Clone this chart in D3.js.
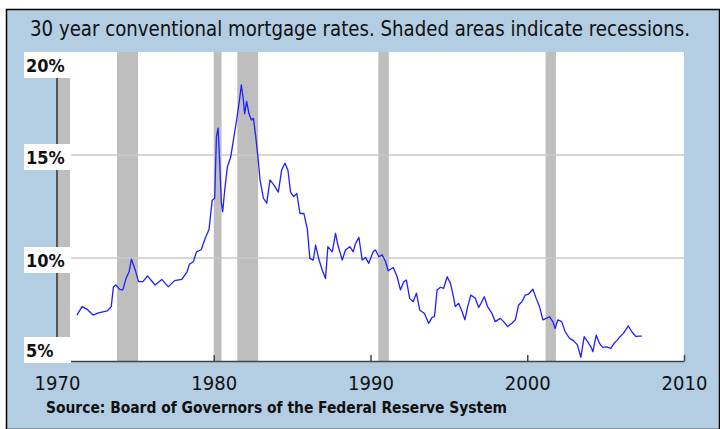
<!DOCTYPE html>
<html>
<head>
<meta charset="utf-8">
<script src="https://cdn.jsdelivr.net/npm/d3@7"></script>
<style>
    html, body { margin: 0; padding: 0; background: #fff; }
    text { font-family: "DejaVu Sans Condensed", "DejaVu Sans", sans-serif; fill: #111; }
</style>
</head>
<body>
<div id="chart"></div>
<script>
// Freddie Mac 30 year conventional rate (decimal year, percent)
const years = [
    1971.27, 1971.6, 1971.9, 1972.3, 1972.65, 1973.2, 1973.46, 1973.6, 1973.75, 1974.0,
    1974.2, 1974.4, 1974.6, 1974.75, 1974.99, 1975.2, 1975.48, 1975.78, 1975.99, 1976.26,
    1976.69, 1977.1, 1977.5, 1977.96, 1978.3, 1978.45, 1978.7, 1978.9, 1979.2, 1979.45,
    1979.7, 1979.9, 1980.06, 1980.17, 1980.28, 1980.38, 1980.49, 1980.57, 1980.7, 1980.87,
    1981.08, 1981.29, 1981.46, 1981.67, 1981.76, 1981.89, 1981.97, 1982.1, 1982.25, 1982.4,
    1982.53, 1982.68, 1982.82, 1982.95, 1983.17, 1983.38, 1983.59, 1983.84, 1984.12, 1984.33,
    1984.54, 1984.73, 1984.9, 1985.1, 1985.3, 1985.5, 1985.75, 1985.97, 1986.13, 1986.35,
    1986.5, 1986.7, 1986.92, 1987.13, 1987.28, 1987.56, 1987.77, 1987.92, 1988.2, 1988.4,
    1988.68, 1988.9, 1989.04, 1989.26, 1989.47, 1989.68, 1989.89, 1990.17, 1990.32, 1990.53,
    1990.75, 1990.96, 1991.13, 1991.45, 1991.7, 1991.91, 1992.12, 1992.29, 1992.5, 1992.72,
    1992.93, 1993.14, 1993.44, 1993.71, 1993.93, 1994.08, 1994.25, 1994.46, 1994.67, 1994.89,
    1995.1, 1995.27, 1995.41, 1995.62, 1995.84, 1996.02, 1996.2, 1996.4, 1996.69, 1996.9,
    1997.05, 1997.26, 1997.47, 1997.75, 1997.96, 1998.28, 1998.49, 1998.75, 1999.02, 1999.24,
    1999.45, 1999.66, 1999.87, 2000.08, 2000.36, 2000.57, 2000.78, 2001.0, 2001.21, 2001.42,
    2001.63, 2001.78, 2001.95, 2002.2, 2002.42, 2002.7, 2002.95, 2003.2, 2003.42, 2003.63,
    2003.85, 2004.06, 2004.19, 2004.4, 2004.6, 2004.82, 2005.07, 2005.33, 2005.54, 2005.71,
    2005.92, 2006.13, 2006.45, 2006.67, 2006.94, 2007.09, 2007.31
];
const rates = [
    7.23, 7.64, 7.52, 7.23, 7.34, 7.43, 7.64, 8.6, 8.69, 8.48,
    8.45, 9.0, 9.33, 9.94, 9.42, 8.85, 8.85, 9.13, 8.93, 8.69,
    8.96, 8.6, 8.9, 8.96, 9.33, 9.7, 9.82, 10.3, 10.4, 10.95,
    11.4, 12.8, 12.9, 15.89, 16.3, 14.6, 12.66, 12.25, 13.3, 14.43,
    14.9, 15.89, 16.7, 17.83, 18.4, 17.67, 17.0, 17.6, 17.0, 16.7,
    16.78, 15.89, 14.9, 13.8, 12.9, 12.66, 13.79, 13.54, 13.2, 14.27,
    14.6, 14.27, 13.2, 12.98, 13.13, 12.16, 12.17, 11.4, 9.98, 9.9,
    10.63, 9.95, 9.42, 9.0, 10.55, 10.3, 11.2, 10.63, 9.9, 10.39,
    10.55, 10.3, 10.7, 11.0, 9.9, 10.03, 9.74, 10.3, 10.39, 10.06,
    10.15, 9.82, 9.38, 9.54, 9.09, 8.45, 8.85, 8.93, 8.04, 7.88,
    8.29, 7.48, 7.31, 6.83, 7.12, 7.15, 8.45, 8.58, 8.53, 9.09,
    8.77, 8.2, 7.64, 7.8, 7.4, 7.0, 7.64, 8.2, 8.04, 7.6,
    7.8, 8.12, 7.64, 7.31, 6.91, 7.07, 6.91, 6.67, 6.83, 7.0,
    7.72, 7.88, 8.2, 8.25, 8.48, 8.04, 7.64, 7.0, 7.07, 7.15,
    6.91, 6.58, 7.0, 6.91, 6.42, 6.1, 5.99, 5.78, 5.18, 6.18,
    5.94, 5.69, 5.45, 6.26, 5.86, 5.66, 5.69, 5.61, 5.86, 5.99,
    6.18, 6.34, 6.7, 6.42, 6.18, 6.21, 6.21
];

// NBER recessions (start, end)
const recessionStart = [1969.92, 1973.83, 1980.0, 1981.5, 1990.5, 2001.17];
const recessionEnd = [1970.83, 1975.17, 1980.5, 1982.83, 1991.17, 2001.83];

const xTicks = [1970, 1980, 1990, 2000, 2010];
const yTicks = [5, 10, 15, 20];
const yTickLabels = ['5%', '10%', '15%', '20%'];

const title = '30 year conventional mortgage rates. Shaded areas indicate recessions.';
const source = 'Source: Board of Governors of the Federal Reserve System';

const width = 720;
const height = 429;

const svg = d3.select('#chart')
    .append('svg')
    .attr('width', width)
    .attr('height', height);

// Blue panel with black frame
svg.append('rect')
    .attr('x', 6.5).attr('y', 9.5)
    .attr('width', 713).attr('height', 420)
    .attr('fill', '#b3cde3')
    .attr('stroke', '#000')
    .attr('stroke-width', 1.5);

const x = d3.scaleLinear().domain([1970, 2010]).range([57, 684]);
const y = d3.scaleLinear().domain([5, 20]).range([361, 52]);

// Plot area
svg.append('rect')
    .attr('x', x(1970)).attr('y', y(20))
    .attr('width', x(2010) - x(1970)).attr('height', y(5) - y(20))
    .attr('fill', '#fff');

// Recession bands, clipped to the plot
svg.append('g')
    .selectAll('rect')
    .data(recessionStart)
    .enter()
    .append('rect')
    .attr('x', (d) => x(Math.max(d, 1970)))
    .attr('width', (d, i) => x(recessionEnd[i]) - x(Math.max(d, 1970)))
    .attr('y', y(20))
    .attr('height', y(5) - y(20))
    .attr('fill', '#bebebe');

// Gridlines
svg.append('g')
    .selectAll('line')
    .data([10, 15])
    .enter()
    .append('line')
    .attr('x1', x(1970)).attr('x2', x(2010))
    .attr('y1', (d) => y(d)).attr('y2', (d) => y(d))
    .attr('stroke', '#c8c8c8')
    .attr('stroke-width', 1.5);

// Left axis line
svg.append('line')
    .attr('x1', x(1970)).attr('x2', x(1970))
    .attr('y1', y(20)).attr('y2', y(5))
    .attr('stroke', '#555')
    .attr('stroke-width', 2);

// Bottom axis, ticks pointing up
const xAxis = d3.axisBottom(x)
    .tickValues(xTicks)
    .tickFormat(d3.format('d'))
    .tickSizeInner(-6)
    .tickSizeOuter(0)
    .tickPadding(15);

const gx = svg.append('g')
    .attr('transform', `translate(0,${y(5)})`)
    .call(xAxis);
gx.select('.domain').attr('stroke', '#444').attr('stroke-width', 1.5);
gx.selectAll('.tick line').attr('stroke', '#444').attr('stroke-width', 1.5);
gx.selectAll('.tick text')
    .attr('font-size', 20)
    .attr('font-family', '"DejaVu Sans Condensed", "DejaVu Sans", sans-serif')
    .attr('fill', '#111');

// Rate line
const line = d3.line()
    .x((d) => x(d))
    .y((d, i) => y(rates[i]));

svg.append('path')
    .datum(years)
    .attr('d', line)
    .attr('fill', 'none')
    .attr('stroke', '#1f1fff')
    .attr('stroke-width', 1.3)
    .attr('stroke-linejoin', 'round');

// Y labels sit in white boxes, kept inside the plot height
const yLabel = svg.append('g')
    .selectAll('g')
    .data(yTicks)
    .enter()
    .append('g')
    .attr('transform', (d) => {
        const base = Math.min(Math.max(y(d) + 9, y(20) + 20), y(5) - 4);
        return `translate(0,${base})`;
    });

yLabel.append('rect')
    .attr('x', 24).attr('y', -20)
    .attr('width', 47).attr('height', 26)
    .attr('fill', '#fff');

yLabel.append('text')
    .attr('x', 26)
    .attr('font-size', 18)
    .attr('font-weight', 'bold')
    .text((d, i) => yTickLabels[i]);

// Title and source
svg.append('text')
    .attr('x', 30).attr('y', 36)
    .attr('font-size', 21)
    .attr('textLength', 660)
    .attr('lengthAdjust', 'spacingAndGlyphs')
    .text(title);

svg.append('text')
    .attr('x', 46).attr('y', 413)
    .attr('font-size', 16)
    .attr('font-weight', 'bold')
    .attr('textLength', 461)
    .attr('lengthAdjust', 'spacingAndGlyphs')
    .text(source);
</script>
</body>
</html>
